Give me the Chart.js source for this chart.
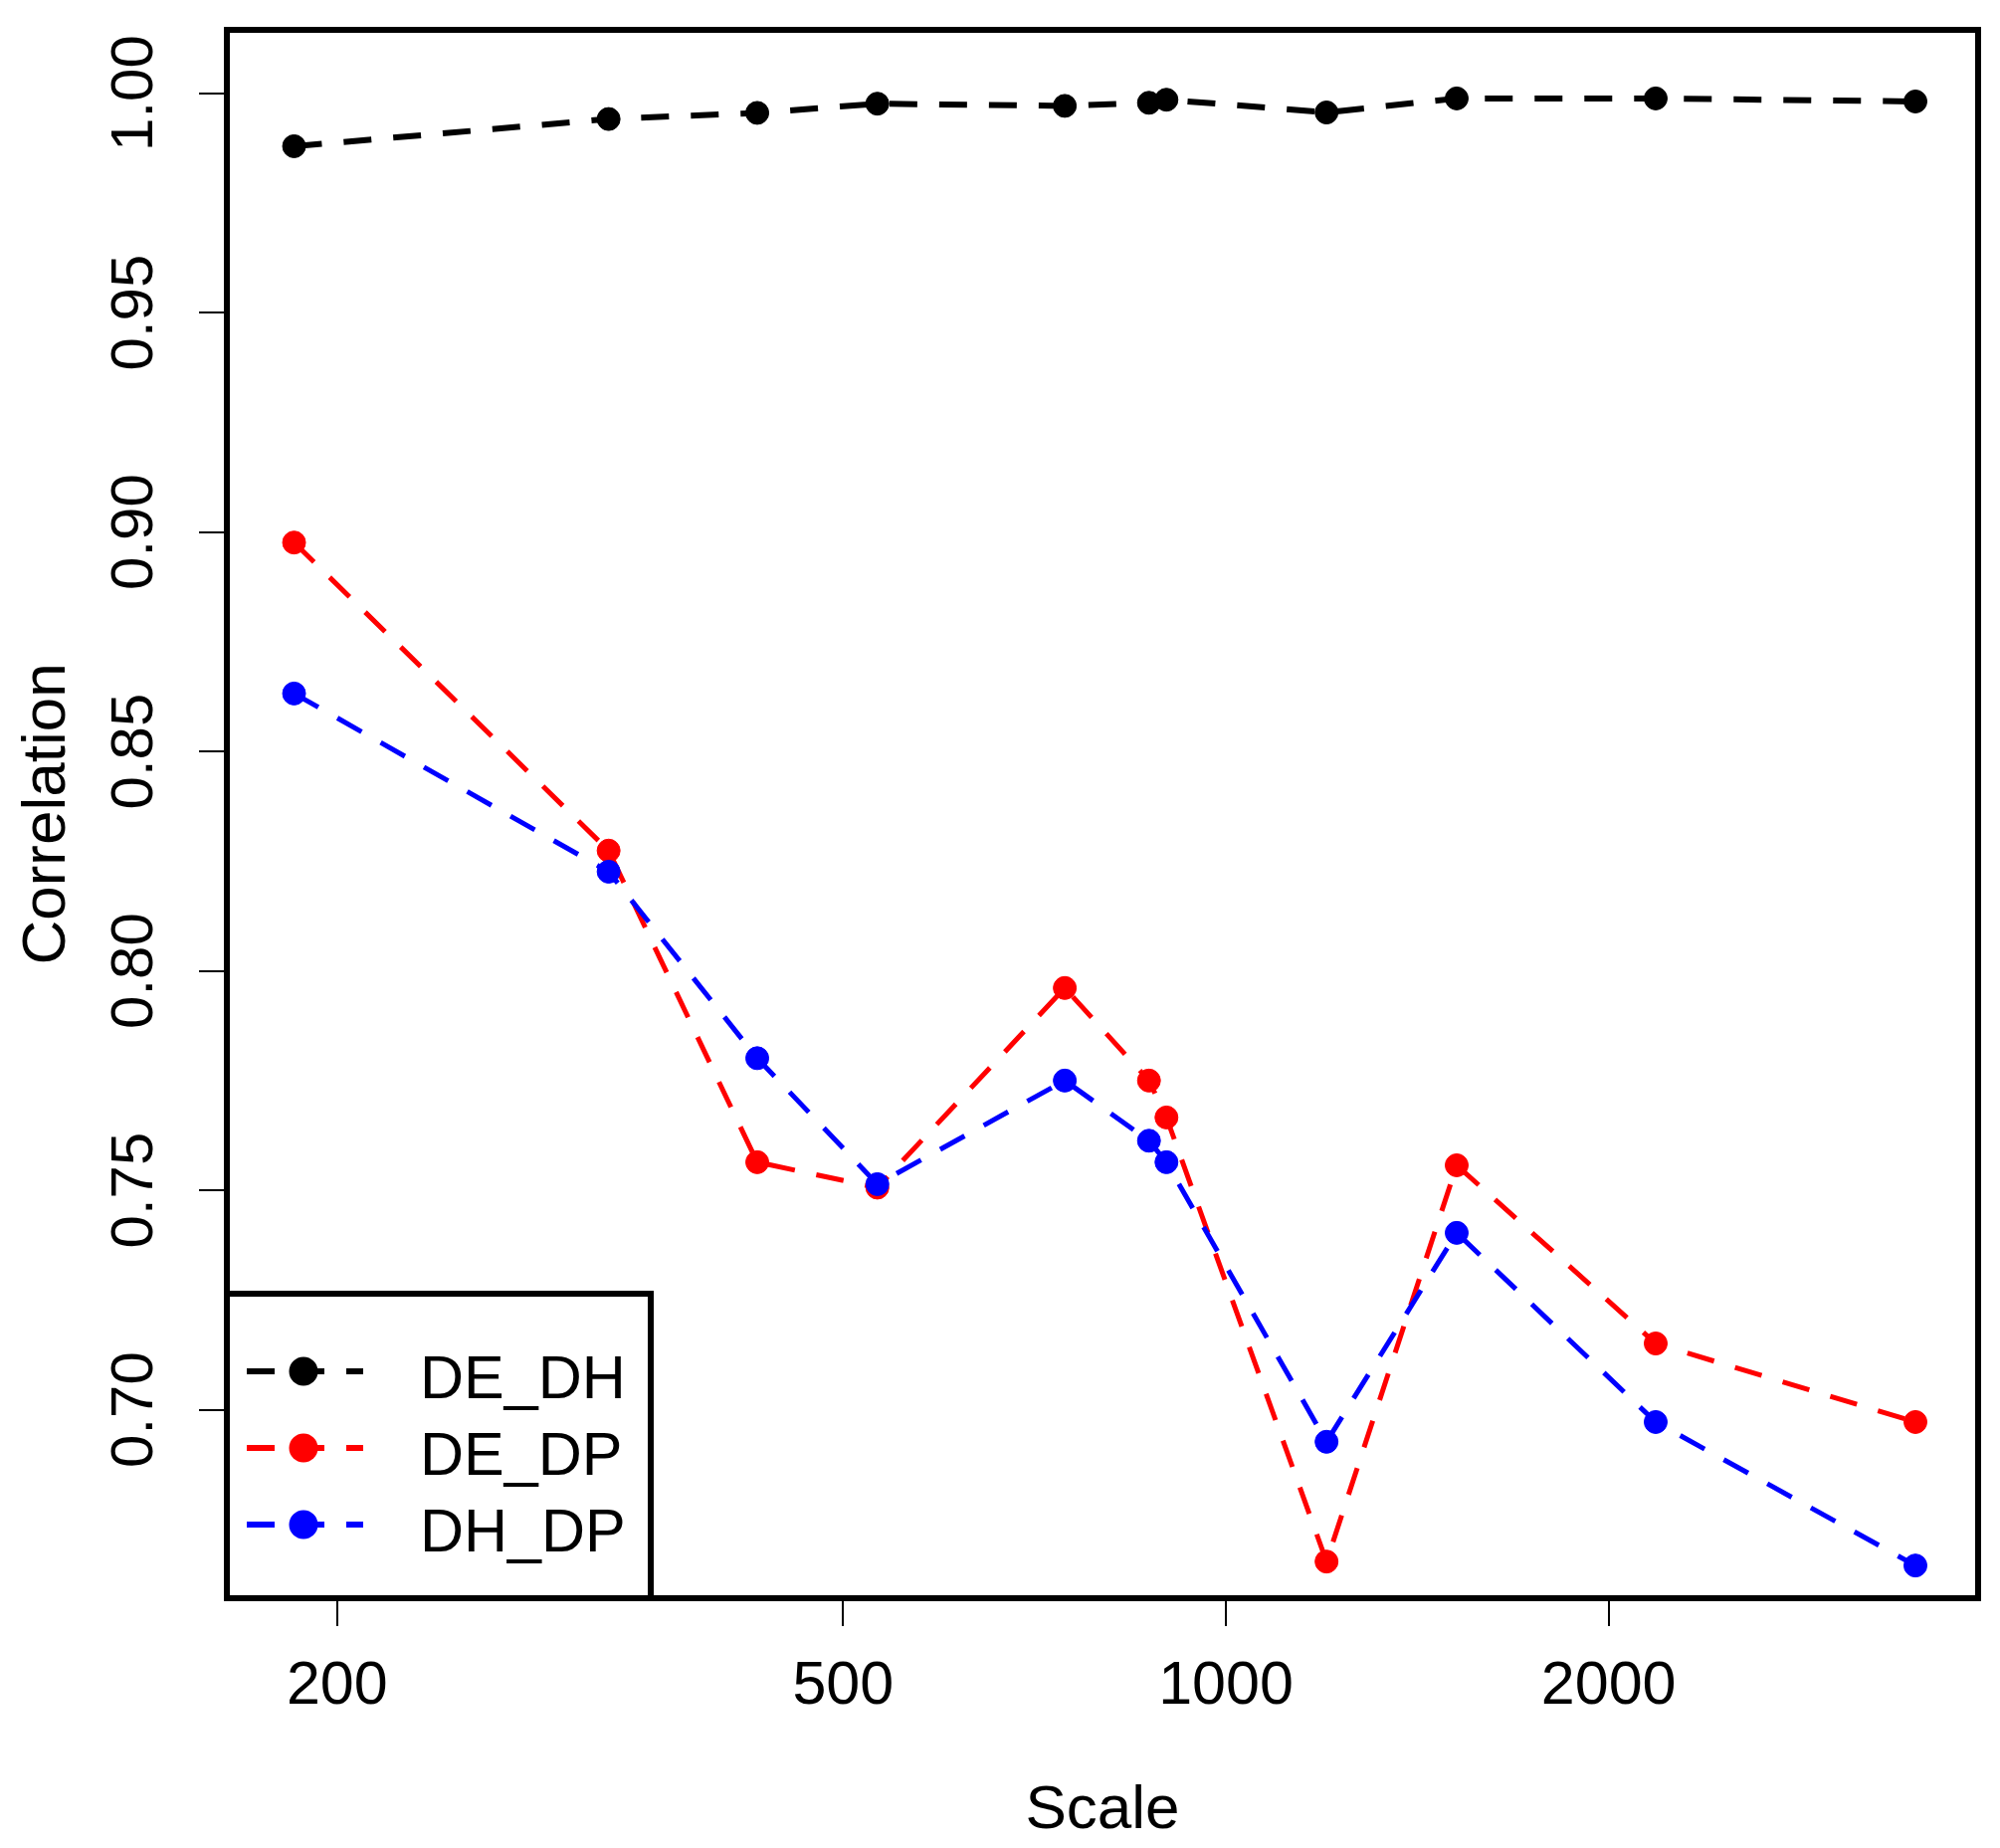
<!DOCTYPE html>
<html>
<head>
<meta charset="utf-8">
<script src="https://cdn.jsdelivr.net/npm/chart.js@4.4.1/dist/chart.umd.min.js"></script>
<style>
  html, body { margin: 0; padding: 0; background: #fff; }
  canvas { display: block; }
</style>
</head>
<body>
<canvas id="chart" width="2010" height="1857"></canvas>
<script>
// Correlation of the three pairs against scale (log x axis)
const scales = [185, 327, 428, 532, 747, 870, 898, 1200, 1519, 2178, 3486];
const deDh = [0.9879, 0.9941, 0.9955, 0.9976, 0.9971, 0.9978, 0.9985, 0.9956, 0.9988, 0.9988, 0.9981];
const deDp = [0.8976, 0.8274, 0.7564, 0.7506, 0.7961, 0.7750, 0.7666, 0.6654, 0.7557, 0.7151, 0.6972];
const dhDp = [0.8632, 0.8226, 0.7801, 0.7514, 0.7750, 0.7613, 0.7564, 0.6927, 0.7403, 0.6972, 0.6645];
const seriesNames = ['DE_DH', 'DE_DP', 'DH_DP'];
const seriesColors = ['#000000', '#ff0000', '#0000ff'];
const xTicks = [200, 500, 1000, 2000];
const yTicks = [0.70, 0.75, 0.80, 0.85, 0.90, 0.95, 1.00];

const FONT = "'Liberation Sans', Arial, sans-serif";

function toPoints(values) {
    return scales.map((s, i) => ({ x: s, y: values[i] }));
}

function makeDataset(i, values, width) {
    return {
        label: seriesNames[i],
        data: toPoints(values),
        borderColor: seriesColors[i],
        backgroundColor: seriesColors[i],
        borderWidth: width,
        borderDash: [28, 22],
        pointRadius: 11.5,
        pointBorderWidth: 1,
        pointBackgroundColor: seriesColors[i],
        pointBorderColor: seriesColors[i],
        tension: 0,
        order: 3 - i
    };
}

// Box round the plot area plus an R-style legend in the lower left corner
const frameAndLegend = {
    id: 'frameAndLegend',
    afterDraw(chart) {
        const { ctx, chartArea } = chart;
        ctx.save();
        ctx.lineWidth = 6;
        ctx.strokeStyle = '#000';
        ctx.strokeRect(chartArea.left, chartArea.top, chartArea.right - chartArea.left, chartArea.bottom - chartArea.top);

        const w = 426, h = 306;
        const bx = chartArea.left, by = chartArea.bottom - h;
        ctx.fillStyle = '#fff';
        ctx.fillRect(bx, by, w, h);
        ctx.strokeRect(bx, by, w, h);

        chart.data.datasets.forEach((ds, i) => {
            const y = by + 78 + i * 77;
            ctx.strokeStyle = ds.borderColor;
            ctx.lineWidth = 6;
            ctx.setLineDash([28, 22]);
            ctx.beginPath();
            ctx.moveTo(bx + 20, y);
            ctx.lineTo(bx + 137, y);
            ctx.stroke();
            ctx.setLineDash([]);
            ctx.fillStyle = ds.backgroundColor;
            ctx.beginPath();
            ctx.arc(bx + 77, y, 14.5, 0, Math.PI * 2);
            ctx.fill();
            ctx.fillStyle = '#000';
            ctx.font = '61px ' + FONT;
            ctx.textAlign = 'left';
            ctx.textBaseline = 'alphabetic';
            ctx.fillText(ds.label, bx + 194, y + 27);
        });
        ctx.restore();
    }
};

const ctx = document.getElementById('chart');
new Chart(ctx, {
    type: 'line',
    data: {
        datasets: [
            makeDataset(0, deDh, 6),
            makeDataset(1, deDp, 5),
            makeDataset(2, dhDp, 5)
        ]
    },
    options: {
        responsive: false,
        animation: false,
        devicePixelRatio: 1,
        layout: { padding: { top: 30, right: 22, left: 0, bottom: 0 } },
        plugins: {
            legend: { display: false },
            tooltip: { enabled: false }
        },
        scales: {
            x: {
                type: 'logarithmic',
                min: 163.8,
                max: 3905,
                bounds: 'data',
                afterBuildTicks: scale => { scale.ticks = xTicks.map(v => ({ value: v })); },
                afterFit: scale => { scale.height = 251; },
                border: { display: false },
                grid: { drawOnChartArea: false, drawTicks: true, tickLength: 28, color: '#000', lineWidth: 2 },
                ticks: {
                    color: '#000',
                    font: { family: FONT, size: 61, lineHeight: 1 },
                    padding: 31,
                    maxRotation: 0,
                    autoSkip: false,
                    callback: v => String(v)
                },
                title: {
                    display: true,
                    text: 'Scale',
                    color: '#000',
                    font: { family: FONT, size: 62, lineHeight: 1 },
                    padding: { top: 6, bottom: 6 }
                }
            },
            y: {
                type: 'linear',
                min: 0.65705,
                max: 1.01442,
                afterBuildTicks: scale => { scale.ticks = yTicks.map(v => ({ value: v })); },
                afterFit: scale => { scale.width = 228; },
                border: { display: false },
                grid: { drawOnChartArea: false, drawTicks: true, tickLength: 28, color: '#000', lineWidth: 2 },
                ticks: {
                    color: '#000',
                    font: { family: FONT, size: 60, lineHeight: 0.5 },
                    padding: 5,
                    minRotation: 90,
                    maxRotation: 90,
                    crossAlign: 'center',
                    autoSkip: false,
                    callback: v => v.toFixed(2)
                },
                title: {
                    display: true,
                    text: 'Correlation',
                    color: '#000',
                    font: { family: FONT, size: 62, lineHeight: 1 },
                    padding: { top: 17, bottom: 17 }
                }
            }
        }
    },
    plugins: [frameAndLegend]
});
</script>
</body>
</html>
